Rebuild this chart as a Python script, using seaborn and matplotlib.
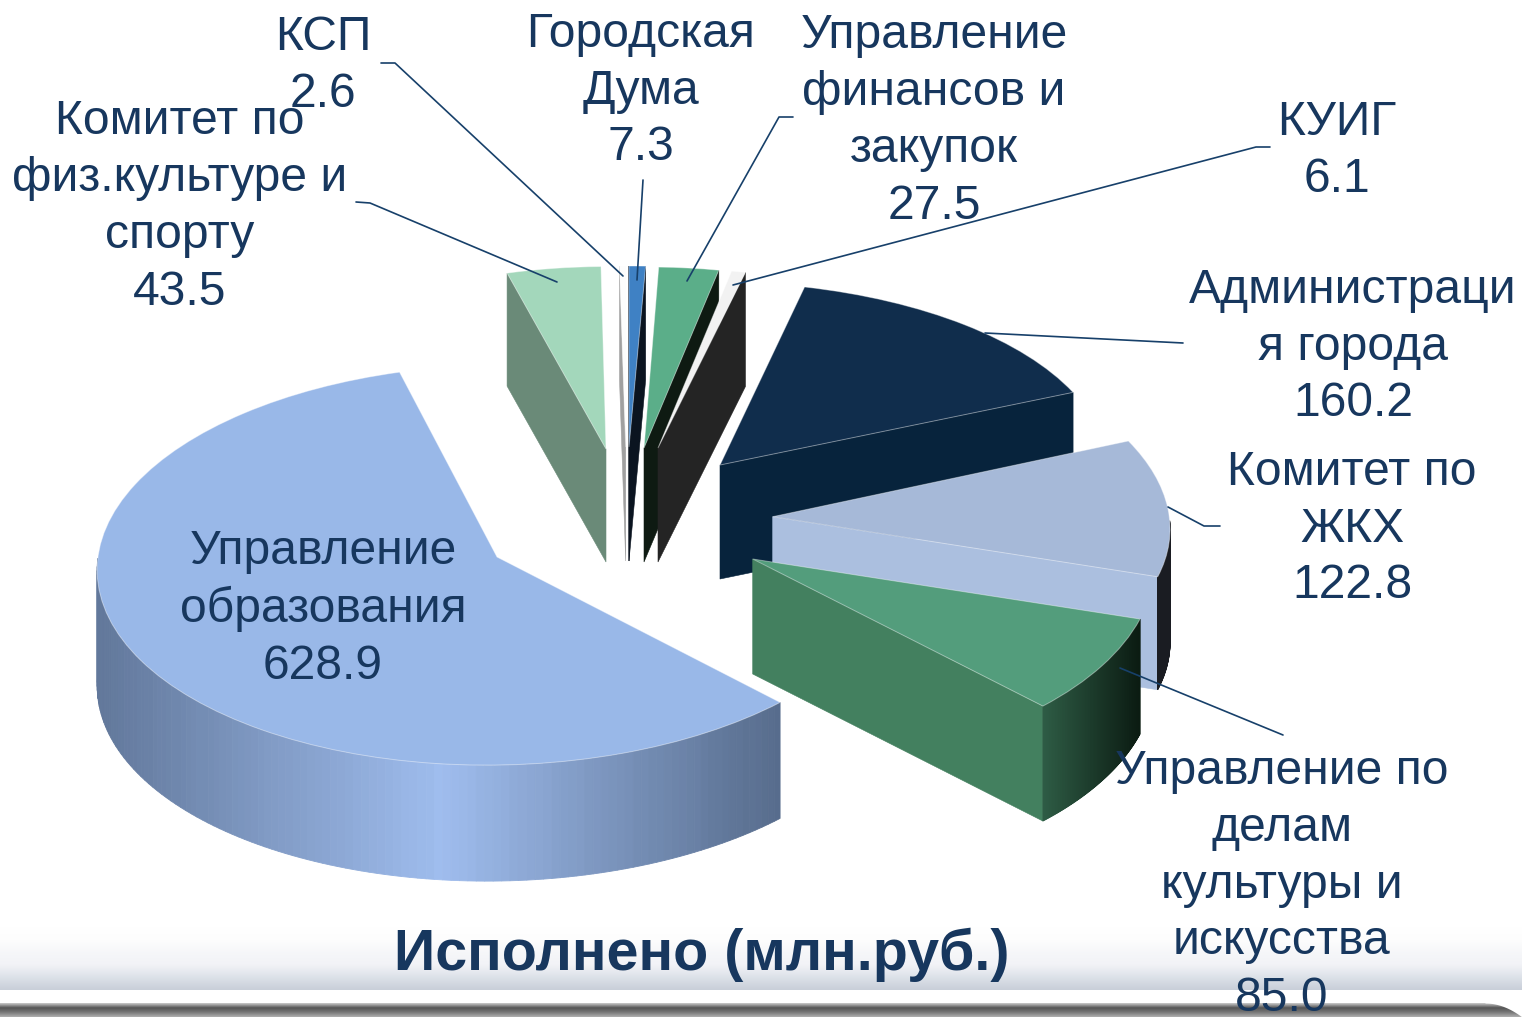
import numpy as np
import seaborn as sns
import matplotlib
matplotlib.use('Agg')
import matplotlib.pyplot as plt
from matplotlib.transforms import Transform

# данные диаграммы, млн.руб.
names = ['Управление\nобразования', 'Комитет по\nфиз.культуре и\nспорту', 'КСП', 'Городская\nДума',
         'Управление\nфинансов и\nзакупок', 'КУИГ', 'Администраци\nя города', 'Комитет по\nЖКХ',
         'Управление по\nделам\nкультуры и\nискусства']
values = [628.9, 43.5, 2.6, 7.3, 27.5, 6.1, 160.2, 122.8, 85.0]
title = 'Исполнено (млн.руб.)'

# цвета: верх, срез, внешняя стенка
top_colors = ['#99b8e8', '#a3d7bb', '#fdfdfd', '#3f81c4', '#5bae89', '#f2f2f2', '#102d4c', '#a6b9d8', '#539d7c']
cut_colors = ['#5f7699', '#6a8a78', '#a0a0a0', '#0b1420', '#0e1a12', '#242424', '#07233c', '#abbfdf', '#43805f']
arc_colors = [['#62789b', '#9fbdee', '#566b8b'], ['#6a8a78'] * 2, ['#a0a0a0'] * 2, ['#0b1420'] * 2,
              ['#0e1a12'] * 2, ['#242424'] * 2, ['#07233c'] * 2, ['#1a1c22'] * 2, ['#2e5c45', '#0b1b12']]

# положение долей на картинке: x, y, rx, сдвиг x, ry, сдвиг y, перспектива, высота
places = [(497, 557, 399, 10, 199.8, 0, 0.04, 116), (606, 449, 377, 6, 182.5, -2, 0, 113),
          (625.7, 447, 400, 5.5, 181, 0, 0, 114), (629, 447, 396, 5.5, 181, 0, 0, 114),
          (644, 448, 380, 4, 181, 0, 0, 114), (658, 448, 400, -1, 180, 0, 0, 114),
          (720, 465, 387, -1, 183, -2, 0, 114), (772.7, 516.7, 397, -17, 195, -4, 0, 113),
          (752.7, 559, 402, -8.4, 208, 0, 0, 115)]
draw_order = [1, 2, 3, 4, 5, 6, 7, 8, 0]

# подписи: центр блока
label_xy = [(323, 609), (180, 207), (323, 66), (641, 91), (934, 121), (1337, 151), (1353, 347), (1352, 529), (1282, 885)]
leaders = [[(356, 202), (370, 203), (557, 282)], [(381, 63), (395, 63), (623, 276)], [(643, 180), (637, 280)],
           [(793, 117), (779, 117), (687, 281)], [(1270, 147), (1256, 147), (733, 285)],
           [(1183, 343), (985, 333)], [(1220, 526), (1204, 526), (1168, 507)], [(1283, 735), (1120, 668)]]


class SliceTransform(Transform):
    input_dims = 2
    output_dims = 2

    def __init__(self, x0, y0, rx, sx, ry, sy, p):
        super().__init__()
        self.par = (x0, y0, rx, sx, ry, sy, p)

    def transform_non_affine(self, xy):
        x0, y0, rx, sx, ry, sy, p = self.par
        xy = np.asarray(xy, dtype=float)
        u, v = xy[:, 0], xy[:, 1]
        w = 1 + p * v
        return np.column_stack([x0 + (rx * u + sx * v) / w, y0 - (ry * v + sy * u) / w])


sns.set_theme(style='white')
plt.rcParams['font.family'] = ['Liberation Sans', 'DejaVu Sans']

fig = plt.figure(figsize=(15.22, 10.17), dpi=100)
ax = fig.add_axes([0, 0, 1, 1])

wedges, _ = ax.pie(values, colors=top_colors, startangle=-45, counterclock=False, radius=1,
                   wedgeprops={'linewidth': 0.7, 'edgecolor': (1, 1, 1, 0.4)})
ax.set_aspect('auto')

for k, i in enumerate(draw_order):
    w = wedges[i]
    tr = SliceTransform(*places[i][:7])
    depth = places[i][7]
    z = 3 + 2 * k
    w.set_transform(tr + ax.transData)
    w.set_zorder(z + 1)

    def place(t):
        return tr.transform(np.column_stack([np.cos(np.radians(t)), np.sin(np.radians(t))]))

    t1, t2 = w.theta1, w.theta2
    apex = tr.transform(np.array([[0.0, 0.0]]))[0]
    mid = place(np.array([(t1 + t2) / 2]))[0] - apex

    # срезы
    for t in (t1, t2):
        end = place(np.array([t]))[0]
        e = end - apex
        if e[0] * (e[0] * mid[1] - e[1] * mid[0]) < 0:
            ax.fill([apex[0], end[0], end[0], apex[0]], [apex[1], end[1], end[1] + depth, apex[1] + depth],
                    color=cut_colors[i], lw=0.4, zorder=z)

    # внешняя стенка полосками
    ts = np.linspace(t1, t2, 181)
    ts = ts[np.sin(np.radians(ts)) <= 0]
    if len(ts) > 1:
        pts = place(ts)
        xmin, xmax = pts[:, 0].min(), pts[:, 0].max()
        pal = sns.blend_palette(arc_colors[i], 101)
        for a, b in zip(pts[:-1], pts[1:]):
            c = pal[int(100 * ((a[0] + b[0]) / 2 - xmin) / (xmax - xmin))]
            ax.fill([a[0], b[0], b[0], a[0]], [a[1], b[1], b[1] + depth, a[1] + depth], color=c, lw=0.6, zorder=z)

# линии-выноски
for line in leaders:
    ax.plot([p[0] for p in line], [p[1] for p in line], color='#17406a', lw=1.2, zorder=30)

# подписи
for name, val, (x, y) in zip(names, values, label_xy):
    ax.text(x, y, f'{name}\n{val}', ha='center', va='center', ma='center', fontsize=34.6, color='#17375e',
            linespacing=1.335, zorder=40)
ax.text(702, 955, title, ha='center', va='center', fontsize=41.3, fontweight='bold', color='#17375e', zorder=40)

# полоса внизу слайда
band = sns.blend_palette(['#ffffff', '#fdfdfd', '#f6f7f9', '#f2f3f7', '#dde2e9', '#c9cfd9'], 64)
ax.imshow(np.array(band)[:, None, :], extent=(0, 1522, 990, 927), aspect='auto', zorder=1)
foot = sns.blend_palette(['#c0c0c0', '#555555', '#777777', '#aaaaaa'], 14)
ax.imshow(np.array(foot)[:, None, :], extent=(0, 1522, 1017, 1003), aspect='auto', zorder=1)

# загиб полосы справа
xc = np.linspace(1485, 1522, 30)
yc = 1003 + 14 * ((xc - 1485) / 37) ** 2
ax.fill_between(xc, 1002, yc, color='white', lw=0, zorder=2)

ax.set_xlim(0, 1522)
ax.set_ylim(1017, 0)
ax.set_aspect('auto')
ax.axis('off')

fig.savefig('out.png', dpi=100)
